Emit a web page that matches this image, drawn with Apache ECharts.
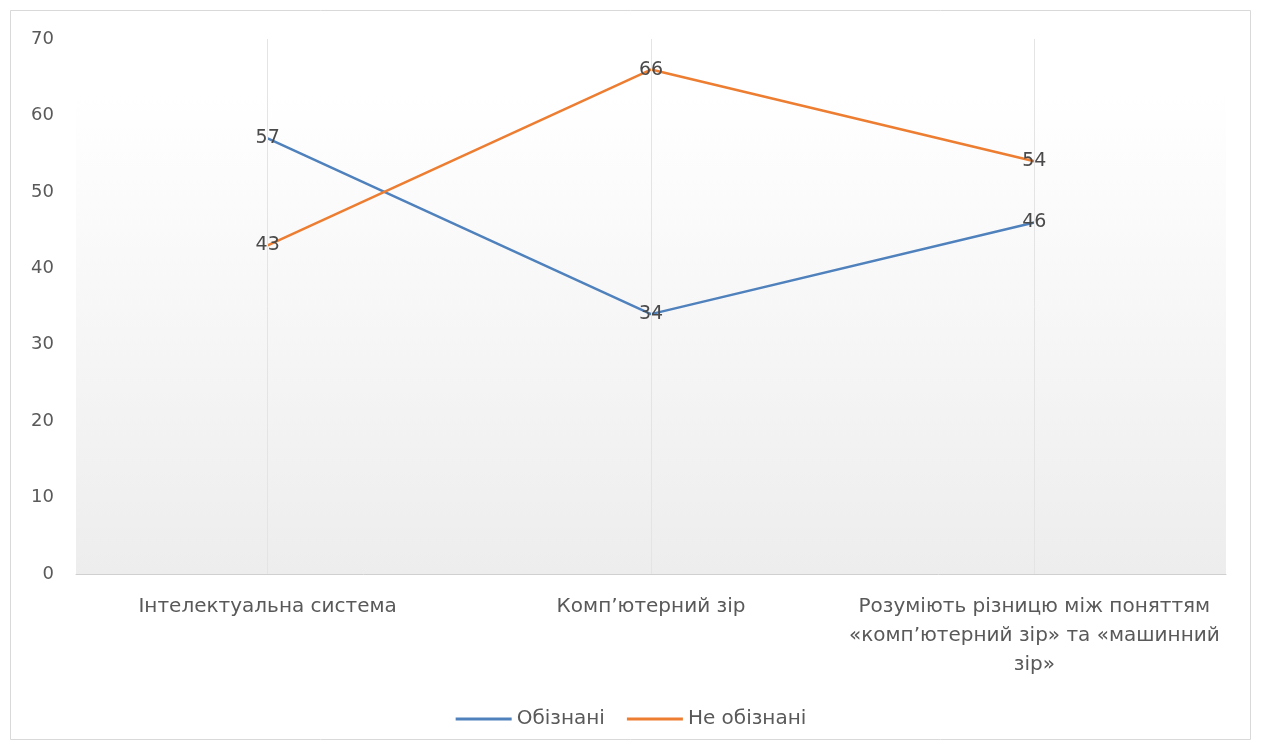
<!DOCTYPE html>
<html>
<head>
<meta charset="utf-8">
<script src="https://cdn.jsdelivr.net/npm/echarts@6/dist/echarts.min.js"></script>
<style>
  html, body { margin: 0; padding: 0; background: #fff; }
  #chart { width: 1262px; height: 751px; }
</style>
</head>
<body>
<div id="chart"></div>
<script>
// Survey shares (%) per question; category names carry their own line breaks
const categories = [
  'Інтелектуальна система',
  'Комп’ютерний зір',
  'Розуміють різницю між поняттям\n«комп’ютерний зір» та «машинний\nзір»'
];
const aware = [57, 34, 46];      // Обізнані
const unaware = [43, 66, 54];    // Не обізнані
const seriesNames = ['Обізнані', 'Не обізнані'];
const seriesColors = ['#4f81bd', '#ed7d31'];

const textColor = '#595959';
const font = 'DejaVu Sans';

const chart = echarts.init(document.getElementById('chart'), null, { renderer: 'canvas' });

const labelStyle = {
  show: true,
  position: 'inside',
  color: '#4a4a4a',
  fontFamily: font,
  fontSize: 19
};

function lineSeries(i, values, extra) {
  return Object.assign({
    name: seriesNames[i],
    type: 'line',
    data: values,
    symbol: 'circle',
    symbolSize: 0,
    showSymbol: true,
    lineStyle: { color: seriesColors[i], width: 2.5 },
    itemStyle: { color: seriesColors[i] },
    label: labelStyle,
    z: 3
  }, extra || {});
}

chart.setOption({
  animation: false,
  backgroundColor: '#ffffff',
  graphic: [{
    type: 'rect',
    shape: { x: 10.5, y: 10.5, width: 1240, height: 729 },
    style: { fill: 'none', stroke: '#d9d9d9', lineWidth: 1 },
    silent: true,
    z: -1
  }],
  grid: {
    left: 76, right: 36, top: 39, bottom: 177,
    show: true,
    borderWidth: 0,
    backgroundColor: new echarts.graphic.LinearGradient(0, 0, 0, 1, [
      { offset: 0, color: '#ffffff' },
      { offset: 0.1, color: '#ffffff' },
      { offset: 1, color: '#ededed' }
    ])
  },
  legend: {
    bottom: 17,
    left: 'center',
    itemWidth: 56,
    itemHeight: 3,
    itemGap: 22,
    icon: 'rect',
    textStyle: { color: textColor, fontFamily: font, fontSize: 20 },
    data: seriesNames.map((n, i) => ({ name: n, itemStyle: { color: seriesColors[i] } }))
  },
  xAxis: {
    type: 'category',
    data: categories,
    boundaryGap: true,
    axisLine: { lineStyle: { color: '#d0d0d0', width: 1 } },
    axisTick: { show: false },
    splitLine: { show: false },
    axisLabel: {
      interval: 0,
      color: textColor,
      fontFamily: font,
      fontSize: 20,
      lineHeight: 29,
      margin: 18
    }
  },
  yAxis: {
    type: 'value',
    min: 0, max: 70, interval: 10,
    axisLine: { show: false },
    axisTick: { show: false },
    splitLine: { show: false },
    axisLabel: { color: textColor, fontFamily: font, fontSize: 18, margin: 22 }
  },
  series: [
    lineSeries(0, aware, {
      markLine: {
        silent: true,
        symbol: 'none',
        label: { show: false },
        lineStyle: { color: '#e4e4e4', type: 'solid', width: 1 },
        data: categories.map((c, i) => ({ xAxis: i }))
      }
    }),
    lineSeries(1, unaware)
  ]
});
</script>
</body>
</html>
